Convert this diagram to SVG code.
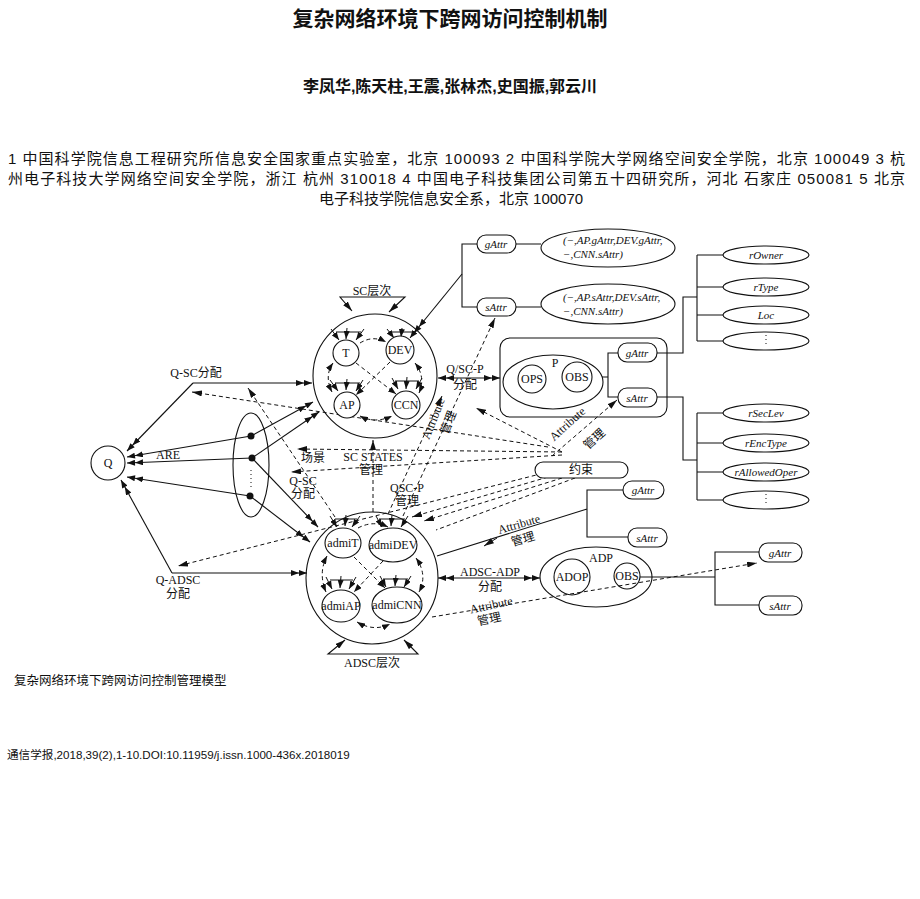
<svg xmlns="http://www.w3.org/2000/svg" width="920" height="899" viewBox="0 0 920 899">
<defs>
<marker id="a" viewBox="0 0 10 6" refX="10" refY="3" markerWidth="10" markerHeight="6" markerUnits="userSpaceOnUse" orient="auto-start-reverse"><path d="M0,0 L10,3 L0,6 z" fill="#111"/></marker>
<marker id="a2" viewBox="0 0 16 6" refX="16" refY="3" markerWidth="16" markerHeight="6" markerUnits="userSpaceOnUse" orient="auto-start-reverse"><path d="M0,0 L8,3 L0,6z M8,0 L16,3 L8,6z" fill="#111"/></marker>
<marker id="s" viewBox="0 0 8 6" refX="8" refY="3" markerWidth="8" markerHeight="6" markerUnits="userSpaceOnUse" orient="auto-start-reverse"><path d="M0,0 L8,3 L0,6 z" fill="#111"/></marker>
</defs>
<style>
.hd{font-family:"Liberation Sans","Noto Sans CJK SC",sans-serif;fill:#111}
.t{font-family:"Liberation Serif","Noto Sans CJK SC",serif;font-size:12px;fill:#111;text-anchor:middle}
.i{font-family:"Liberation Serif",serif;font-style:italic;font-size:11px;fill:#111;text-anchor:middle}
.il{font-family:"Liberation Serif",serif;font-style:italic;font-size:11px;fill:#111;text-anchor:start}
.n{fill:#fff;stroke:#111;stroke-width:1.1}
.o{fill:none;stroke:#111;stroke-width:1.1}
.l{fill:none;stroke:#111;stroke-width:1.1}
.d{fill:none;stroke:#111;stroke-width:1;stroke-dasharray:4 3}
.k{fill:none;stroke:#111;stroke-width:1}
</style>
<rect width="920" height="899" fill="#fff"/>
<g id="header">
<text class="hd" x="450" y="26" font-size="21" font-weight="bold" text-anchor="middle">复杂网络环境下跨网访问控制机制</text>
<text class="hd" x="450" y="92" font-size="16" font-weight="bold" text-anchor="middle">李凤华,陈天柱,王震,张林杰,史国振,郭云川</text>
<text class="hd" x="8" y="164" font-size="15" textLength="897" lengthAdjust="spacing">1 中国科学院信息工程研究所信息安全国家重点实验室，北京 100093 2 中国科学院大学网络空间安全学院，北京 100049 3 杭</text>
<text class="hd" x="8" y="184" font-size="15" textLength="897" lengthAdjust="spacing">州电子科技大学网络空间安全学院，浙江 杭州 310018 4 中国电子科技集团公司第五十四研究所，河北 石家庄 050081 5 北京</text>
<text class="hd" x="451" y="204" font-size="15" text-anchor="middle">电子科技学院信息安全系，北京 100070</text>
</g>
<g id="connectors">
<path class="l" d="M193,383 L127,451" marker-end="url(#a2)"/>
<path class="l" d="M193,383 H312" marker-end="url(#a2)"/>
<path class="l" d="M251,436 L127,457" marker-end="url(#a2)"/>
<path class="l" d="M252,458 L127,463" marker-end="url(#a2)"/>
<path class="l" d="M250,496 L127,477" marker-end="url(#a2)"/>
<path class="l" d="M251,436 L313,402" marker-end="url(#a2)"/>
<path class="l" d="M252,458 L319,412" marker-end="url(#a2)"/>
<path class="l" d="M252,458 L318,527" marker-end="url(#a2)"/>
<path class="l" d="M250,496 L310,542" marker-end="url(#a2)"/>
<path class="l" d="M172,573 L121,480" marker-end="url(#a2)"/>
<path class="l" d="M172,573 H307" marker-end="url(#a2)"/>
<path class="l" d="M462,274 L414,333" marker-end="url(#a2)"/>
<path class="l" d="M477,244 H462 V307 H477 M516,244 H541 M516,307 H541"/>
<path class="l" d="M438,378 H500" marker-start="url(#a2)" marker-end="url(#a2)"/>
<path class="l" d="M592,377 H608 M618,353 H608 V397 H618"/>
<path class="l" d="M657,353 H683 V297 H697 M697,255 V341 M697,255 H723 M697,287 H723 M697,315 H723 M697,341 H723"/>
<path class="l" d="M657,397 H683 V460 H697 M697,413 V500 M697,413 H723 M697,443 H723 M697,472 H723 M697,500 H723"/>
<path class="l" d="M437,556 L587,509 M623,490 H587 V537 H628"/>
<path class="k" d="M497,538 L484,546" marker-end="url(#a)"/>
<path class="l" d="M438,578 H540" marker-start="url(#a2)" marker-end="url(#a2)"/>
<path class="l" d="M640,577 H715 M759,552 H715 V605 H759"/>
<path class="l" d="M352,311 L340,297 H405 L389,312" marker-start="url(#a)" marker-end="url(#a)"/>
<path class="l" d="M345,640 L328,654 H418 L404,640" marker-start="url(#a)" marker-end="url(#a)"/>
<path class="d" d="M548,447 L192,392" marker-end="url(#a)"/>
<path class="d" d="M562,452 L297,449" marker-end="url(#a)"/>
<path class="d" d="M562,455 L291,472" marker-end="url(#a)"/>
<path class="d" d="M562,452 L476,408" marker-end="url(#a)"/>
<path class="d" d="M552,456 L617,400" marker-end="url(#a)"/>
<path class="d" d="M556,470 L178,566" marker-end="url(#a)"/>
<path class="d" d="M335,517 L248,388" marker-end="url(#a)"/>
<path class="d" d="M373,512 L373,440" marker-end="url(#a)"/>
<path class="d" d="M388,514 L442,396" marker-end="url(#a)"/>
<path class="d" d="M403,516 L495,318" marker-end="url(#a)"/>
<path class="d" d="M548,477 L412,517" marker-end="url(#a)"/>
<path class="d" d="M562,478 L424,521" marker-end="url(#a)"/>
<path class="d" d="M575,478 L436,530"/>
<path class="d" d="M432,617 L757,563" marker-end="url(#a)"/>
<path class="d" d="M360,343 Q373,335 386,342" marker-end="url(#s)"/>
<path class="d" d="M333,363 Q324,376 332,392" marker-start="url(#s)" marker-end="url(#s)"/>
<path class="d" d="M415,363 Q426,377 419,393" marker-start="url(#s)" marker-end="url(#s)"/>
<path class="d" d="M360,416 Q375,424 392,416" marker-start="url(#s)" marker-end="url(#s)"/>
<path class="d" d="M356,363 L396,394" marker-end="url(#s)"/>
<path class="d" d="M390,362 L356,395" marker-end="url(#s)"/>
<path class="k" d="M336,332 H361 M390,332 H414 M335,383 H360 M395,381 H419"/>
<path class="k" d="M331,329 L339,340" marker-end="url(#s)"/>
<path class="k" d="M347,328 L346,339" marker-end="url(#s)"/>
<path class="k" d="M364,329 L356,340" marker-end="url(#s)"/>
<path class="k" d="M387,329 L394,338" marker-end="url(#s)"/>
<path class="k" d="M402,328 L401,337" marker-end="url(#s)"/>
<path class="k" d="M417,329 L410,338" marker-end="url(#s)"/>
<path class="k" d="M330,380 L338,391" marker-end="url(#s)"/>
<path class="k" d="M347,379 L346,390" marker-end="url(#s)"/>
<path class="k" d="M363,380 L356,391" marker-end="url(#s)"/>
<path class="k" d="M392,378 L398,389" marker-end="url(#s)"/>
<path class="k" d="M407,377 L406,389" marker-end="url(#s)"/>
<path class="k" d="M422,378 L416,389" marker-end="url(#s)"/>
<path class="d" d="M358,528 Q373,520 388,527" marker-end="url(#s)"/>
<path class="d" d="M327,556 Q318,573 326,592" marker-start="url(#s)" marker-end="url(#s)"/>
<path class="d" d="M416,558 Q428,575 419,592" marker-start="url(#s)" marker-end="url(#s)"/>
<path class="d" d="M357,622 Q374,632 390,624" marker-start="url(#s)" marker-end="url(#s)"/>
<path class="d" d="M354,557 L385,588" marker-end="url(#s)"/>
<path class="d" d="M383,561 L354,592" marker-end="url(#s)"/>
<path class="k" d="M335,519 H357 M379,519 H405 M330,580 H353 M383,579 H408"/>
<path class="k" d="M330,516 L337,527" marker-end="url(#s)"/>
<path class="k" d="M346,515 L345,526" marker-end="url(#s)"/>
<path class="k" d="M360,516 L352,527" marker-end="url(#s)"/>
<path class="k" d="M376,516 L382,527" marker-end="url(#s)"/>
<path class="k" d="M392,515 L391,526" marker-end="url(#s)"/>
<path class="k" d="M408,516 L401,527" marker-end="url(#s)"/>
<path class="k" d="M326,577 L332,589" marker-end="url(#s)"/>
<path class="k" d="M341,576 L340,588" marker-end="url(#s)"/>
<path class="k" d="M356,577 L349,589" marker-end="url(#s)"/>
<path class="k" d="M380,576 L386,587" marker-end="url(#s)"/>
<path class="k" d="M396,575 L395,586" marker-end="url(#s)"/>
<path class="k" d="M411,576 L404,587" marker-end="url(#s)"/>
</g>
<g id="Q"><circle class="n" cx="108" cy="463" r="17"/><text class="t" x="108" y="467">Q</text></g>
<g id="scenes"><ellipse class="o" cx="251" cy="465" rx="18" ry="52"/><circle cx="251" cy="436" r="3.5" fill="#111"/><circle cx="252" cy="458" r="3.5" fill="#111"/><circle cx="250" cy="496" r="3.5" fill="#111"/><path d="M251,470 V488" stroke="#111" stroke-dasharray="1 3"/></g>
<g id="SC"><circle class="o" cx="375" cy="376" r="62"/>
<circle class="n" cx="346" cy="353" r="13"/><text class="t" x="346" y="357">T</text>
<circle class="n" cx="400" cy="350" r="14"/><text class="t" x="400" y="354">DEV</text>
<circle class="n" cx="347" cy="405" r="13"/><text class="t" x="347" y="409">AP</text>
<circle class="n" cx="406" cy="405" r="14"/><text class="t" x="406" y="409">CCN</text></g>
<g id="ADSC"><circle class="o" cx="372" cy="578" r="66"/>
<ellipse class="n" cx="343" cy="543" rx="18" ry="15"/><text class="t" x="343" y="547">admiT</text>
<ellipse class="n" cx="393" cy="545" rx="24" ry="17"/><text class="t" x="393" y="549">admiDEV</text>
<ellipse class="n" cx="341" cy="606" rx="19" ry="16"/><text class="t" x="341" y="610">admiAP</text>
<ellipse class="n" cx="397" cy="605" rx="25" ry="18"/><text class="t" x="397" y="609">admiCNN</text></g>
<g id="gAttr1"><rect class="n" x="477" y="235" width="39" height="18" rx="9"/><text class="i" x="496" y="248">gAttr</text></g>
<g id="sAttr1"><rect class="n" x="477" y="298" width="39" height="18" rx="9"/><text class="i" x="496" y="311">sAttr</text></g>
<g id="E1"><ellipse class="n" cx="608" cy="248" rx="67" ry="19"/><text class="il" x="563" y="244">(−,AP.gAttr,DEV.gAttr,</text><text class="il" x="563" y="258">−,CNN.sAttr)</text></g>
<g id="E2"><ellipse class="n" cx="608" cy="304" rx="67" ry="20"/><text class="il" x="563" y="301">(−,AP.sAttr,DEV.sAttr,</text><text class="il" x="563" y="315">−,CNN.sAttr)</text></g>
<g id="P"><rect class="l" x="500" y="338" width="167" height="79" rx="10"/><ellipse class="n" cx="553" cy="382" rx="50" ry="27"/><text class="t" x="555" y="367">P</text>
<circle class="n" cx="532" cy="379" r="14"/><text class="t" x="532" y="383">OPS</text>
<circle class="n" cx="577" cy="377" r="15"/><text class="t" x="577" y="381">OBS</text></g>
<g id="gAttr2"><rect class="n" x="618" y="343" width="39" height="19" rx="9"/><text class="i" x="637" y="357">gAttr</text></g>
<g id="sAttr2"><rect class="n" x="618" y="388" width="39" height="19" rx="9"/><text class="i" x="637" y="402">sAttr</text></g>
<g id="rOwner"><ellipse class="n" cx="766" cy="255" rx="43" ry="9"/><text class="i" x="766" y="259">rOwner</text></g>
<g id="rType"><ellipse class="n" cx="766" cy="287" rx="43" ry="9"/><text class="i" x="766" y="291">rType</text></g>
<g id="Loc"><ellipse class="n" cx="766" cy="315" rx="43" ry="9"/><text class="i" x="766" y="319">Loc</text></g>
<g id="more1"><ellipse class="n" cx="766" cy="341" rx="43" ry="9"/><path d="M766,335 V347" stroke="#111" stroke-dasharray="1 3"/></g>
<g id="rSecLev"><ellipse class="n" cx="766" cy="413" rx="43" ry="9"/><text class="i" x="766" y="417">rSecLev</text></g>
<g id="rEncType"><ellipse class="n" cx="766" cy="443" rx="43" ry="9"/><text class="i" x="766" y="447">rEncType</text></g>
<g id="rAllowedOper"><ellipse class="n" cx="766" cy="472" rx="43" ry="9"/><text class="i" x="766" y="476">rAllowedOper</text></g>
<g id="more2"><ellipse class="n" cx="766" cy="500" rx="43" ry="9"/><path d="M766,494 V506" stroke="#111" stroke-dasharray="1 3"/></g>
<g id="constraint"><rect class="n" x="535" y="462" width="93" height="16" rx="8"/><text class="t" x="581" y="474">约束</text></g>
<g id="gAttr3"><rect class="n" x="623" y="481" width="41" height="18" rx="9"/><text class="i" x="643" y="494">gAttr</text></g>
<g id="sAttr3"><rect class="n" x="628" y="528" width="39" height="19" rx="9"/><text class="i" x="647" y="542">sAttr</text></g>
<g id="ADP"><ellipse class="o" cx="596" cy="577" rx="56" ry="30"/><text class="t" x="601" y="562">ADP</text>
<circle class="o" cx="572" cy="577" r="18"/><text class="t" x="572" y="581">ADOP</text>
<circle class="o" cx="627" cy="576" r="13"/><text class="t" x="627" y="580">OBS</text></g>
<g id="gAttr4"><rect class="n" x="759" y="543" width="43" height="19" rx="9"/><text class="i" x="780" y="557">gAttr</text></g>
<g id="sAttr4"><rect class="n" x="759" y="596" width="43" height="19" rx="9"/><text class="i" x="780" y="610">sAttr</text></g>
<g id="labels">
<text class="t" x="372" y="295">SC层次</text>
<text class="t" x="372" y="667">ADSC层次</text>
<text class="t" x="196" y="377" font-size="11">Q-SC分配</text>
<text class="t" x="168" y="459" font-size="11">ARE</text>
<text class="t" x="178" y="584" font-size="11">Q-ADSC</text>
<text class="t" x="178" y="598" font-size="11">分配</text>
<text class="t" x="313" y="462" font-size="11">场景</text>
<text class="t" x="303" y="485" font-size="11">Q-SC</text>
<text class="t" x="303" y="498" font-size="11">分配</text>
<text class="t" x="373" y="461" font-size="11">SC STATES</text>
<text class="t" x="371" y="474" font-size="11">管理</text>
<text class="t" x="407" y="492" font-size="11">QSC-P</text>
<text class="t" x="407" y="505" font-size="11">管理</text>
<text class="t" x="465" y="373" font-size="11">Q/SC-P</text>
<text class="t" x="465" y="389" font-size="11">分配</text>
<text class="t" x="490" y="576" font-size="11">ADSC-ADP</text>
<text class="t" x="490" y="591" font-size="11">分配</text>
<text class="t" font-size="11" transform="translate(437,420) rotate(-68)">Attribute</text>
<text class="t" font-size="11" transform="translate(452,424) rotate(-68)">管理</text>
<text class="t" font-size="11" transform="translate(570,427) rotate(-42)">Attribute</text>
<text class="t" font-size="11" transform="translate(597,442) rotate(-42)">管理</text>
<text class="t" font-size="11" transform="translate(520,528) rotate(-16)">Attribute</text>
<text class="t" font-size="11" transform="translate(524,543) rotate(-16)">管理</text>
<text class="t" font-size="11" transform="translate(492,609) rotate(-12)">Attribute</text>
<text class="t" font-size="11" transform="translate(490,623) rotate(-12)">管理</text>
</g>
<g id="footer">
<text class="hd" x="14" y="685" font-size="12.5">复杂网络环境下跨网访问控制管理模型</text>
<text class="hd" x="7" y="759" font-size="11.6">通信学报,2018,39(2),1-10.DOI:10.11959/j.issn.1000-436x.2018019</text>
</g>
</svg>
